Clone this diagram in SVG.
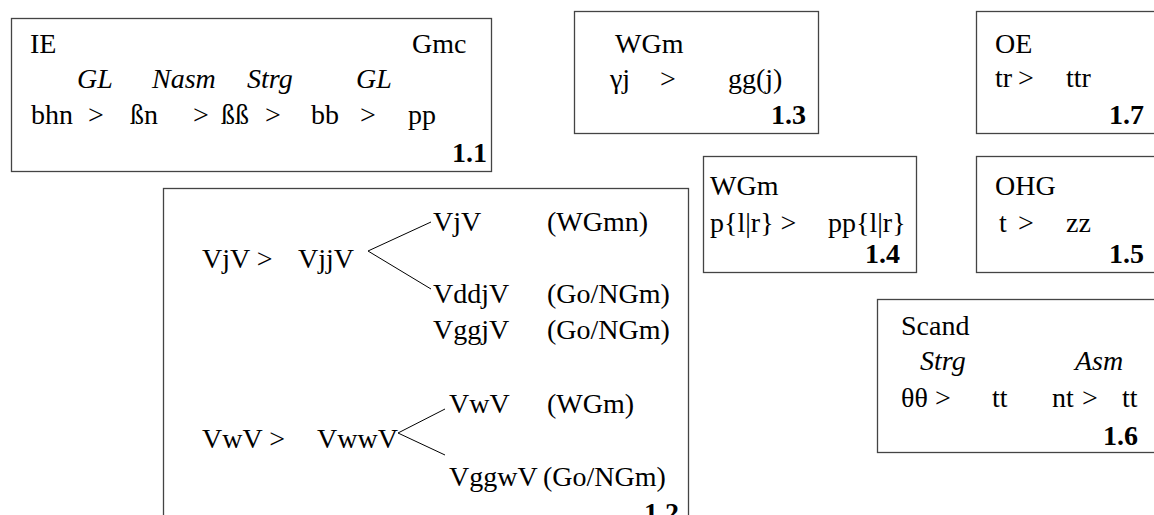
<svg xmlns="http://www.w3.org/2000/svg" width="1154" height="515" viewBox="0 0 1154 515">
<style>
text{font-family:"Liberation Serif","Times New Roman",serif;font-size:28px;fill:#000}
.i{font-style:italic}
.b{font-weight:bold;text-anchor:end}
.box{fill:#fff;stroke:#444;stroke-width:1.3}
.ln{stroke:#000;stroke-width:1;fill:none}
</style>
<rect width="1154" height="515" fill="#fff"/>
<g id="n11">
<rect class="box" x="11.5" y="18.5" width="480" height="153"/>
<text x="30" y="53">IE</text><text x="412" y="53">Gmc</text>
<text class="i" x="77" y="88">GL</text><text class="i" x="152" y="88">Nasm</text><text class="i" x="247" y="88">Strg</text><text class="i" x="356" y="88">GL</text>
<text x="31" y="124">bhn</text><text x="88" y="124">&gt;</text><text x="130" y="124">ßn</text><text x="193" y="124">&gt;</text><text x="221" y="124">ßß</text><text x="265" y="124">&gt;</text><text x="311" y="124">bb</text><text x="360" y="124">&gt;</text><text x="408" y="124">pp</text>
<text class="b" x="487" y="162">1.1</text>
</g>
<g id="n13">
<rect class="box" x="574.5" y="11.5" width="244" height="122"/>
<text x="615" y="53">WGm</text>
<text x="610" y="88">γj</text><text x="660" y="88">&gt;</text><text x="728" y="88">gg(j)</text>
<text class="b" x="806" y="124">1.3</text>
</g>
<g id="n14">
<rect class="box" x="703.5" y="156.5" width="213" height="116"/>
<text x="710" y="195">WGm</text>
<text x="710" y="232">p{l|r} &gt;</text><text x="828" y="232">pp{l|r}</text>
<text class="b" x="900" y="263">1.4</text>
</g>
<g id="n17">
<rect class="box" x="976.5" y="11.5" width="190" height="122"/>
<text x="995" y="53">OE</text>
<text x="995" y="87">tr</text><text x="1018" y="87">&gt;</text><text x="1066" y="87">ttr</text>
<text class="b" x="1144" y="124">1.7</text>
</g>
<g id="n15">
<rect class="box" x="976.5" y="156.5" width="190" height="116"/>
<text x="995" y="195">OHG</text>
<text x="999" y="232">t</text><text x="1018" y="232">&gt;</text><text x="1066" y="232">zz</text>
<text class="b" x="1144" y="263">1.5</text>
</g>
<g id="n16">
<rect class="box" x="877.5" y="299.5" width="290" height="153"/>
<text x="901" y="335">Scand</text>
<text class="i" x="920" y="370">Strg</text><text class="i" x="1075" y="370">Asm</text>
<text x="901" y="407">θθ</text><text x="935" y="407">&gt;</text><text x="992" y="407">tt</text><text x="1052" y="407">nt</text><text x="1082" y="407">&gt;</text><text x="1122" y="407">tt</text>
<text class="b" x="1138" y="445">1.6</text>
</g>
<g id="n12">
<rect class="box" x="163.5" y="188.5" width="525" height="345"/>
<text x="202" y="268">VjV &gt;</text><text x="298" y="268">VjjV</text>
<text x="433" y="231">VjV</text><text x="547" y="231">(WGmn)</text>
<text x="433" y="303">VddjV</text><text x="547" y="303">(Go/NGm)</text>
<text x="433" y="339">VggjV</text><text x="547" y="339">(Go/NGm)</text>
<text x="202" y="448">VwV &gt;</text><text x="317" y="448">VwwV</text>
<text x="449" y="413">VwV</text><text x="547" y="413">(WGm)</text>
<text x="449" y="486">VggwV</text><text x="543" y="486">(Go/NGm)</text>
<text class="b" x="679" y="522">1.2</text>
</g>
<g id="connectors">
<path class="ln" d="M431,222 L368,251 L431,289"/>
<path class="ln" d="M445,409 L398,433 L445,455"/>
</g>
</svg>
